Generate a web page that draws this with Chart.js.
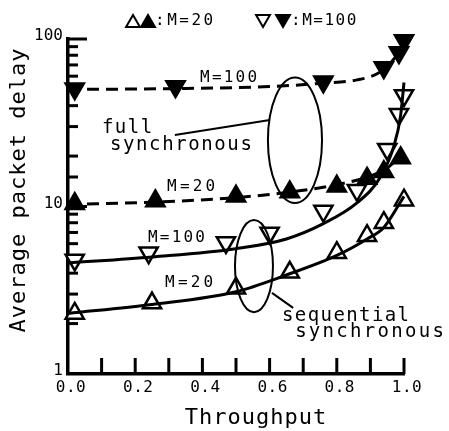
<!DOCTYPE html>
<html>
<head>
<meta charset="utf-8">
<script src="https://cdn.jsdelivr.net/npm/chart.js@4/dist/chart.umd.min.js"></script>
<style>
  html, body { margin: 0; padding: 0; background: #fff; }
</style>
</head>
<body>
<canvas id="chart" width="449" height="431"></canvas>
<script>
// ------------------------------------------------------------
// DATA
// ------------------------------------------------------------
// markers
const seqM20X  = [0.02, 0.25, 0.50, 0.66, 0.80, 0.89, 0.94, 1.00];
const seqM20Y  = [2.3, 2.65, 3.25, 4.05, 5.3, 6.7, 8.0, 10.9];
const seqM100X = [0.02, 0.24, 0.47, 0.60, 0.76, 0.86, 0.95, 0.985, 1.00];
const seqM100Y = [4.8, 5.3, 6.1, 6.95, 9.4, 12.5, 22, 35.5, 46];
const fullM20X = [0.02, 0.26, 0.50, 0.66, 0.80, 0.89, 0.94, 0.99];
const fullM20Y = [10.4, 10.8, 11.5, 12.2, 13.2, 14.7, 16.1, 19.5];
const fullM100X = [0.02, 0.32, 0.76, 0.94, 0.985, 1.00];
const fullM100Y = [50.5, 52, 55.5, 67.5, 83, 98];

// fitted curves
const seqM20CurveX  = [0, 0.25, 0.5, 0.65, 0.8, 0.89, 0.94, 1.0];
const seqM20CurveY  = [2.3, 2.6, 3.1, 3.9, 5.1, 6.4, 7.5, 11.5];
const seqM100CurveX = [0, 0.25, 0.5, 0.65, 0.76, 0.86, 0.93, 0.97, 0.99, 1.0];
const seqM100CurveY = [4.6, 5.0, 5.6, 6.4, 7.9, 10.5, 15, 23, 35, 55];
const fullM20CurveX = [0, 0.25, 0.5, 0.66, 0.8, 0.9, 0.95, 1.0];
const fullM20CurveY = [10.3, 10.6, 11.3, 12.2, 13.5, 15.2, 17, 21];
const fullM100CurveX = [0, 0.3, 0.6, 0.76, 0.86, 0.92, 0.96, 0.99, 1.0];
const fullM100CurveY = [50, 50.5, 52, 54.5, 57, 62, 72, 88, 100];

// axis tick labels
const xTickLabels = ["0.0", "0.2", "0.4", "0.6", "0.8", "1.0"];
const yTickLabels = ["1", "10", "100"];

const pts = (xs, ys) => xs.map((x, i) => ({ x, y: ys[i] }));

const MONO = '"DejaVu Sans Mono", monospace';

function curve(xs, ys, dashed) {
  return {
    data: pts(xs, ys),
    borderColor: "#000",
    borderWidth: 3,
    borderDash: dashed ? [12, 7] : [],
    pointRadius: 0,
    tension: 0.4,
    cubicInterpolationMode: "monotone",
    fill: false,
    clip: false
  };
}

function markers(xs, ys, filled, down) {
  return {
    data: pts(xs, ys),
    showLine: false,
    pointStyle: "triangle",
    rotation: down ? 180 : 0,
    pointRadius: 10.5,
    pointBackgroundColor: filled ? "#000" : "#fff",
    pointBorderColor: "#000",
    pointBorderWidth: 2.5,
    clip: false
  };
}

// ------------------------------------------------------------
// DECORATION PLUGIN (ticks, labels, ellipses, legend)
// ------------------------------------------------------------
function text(ctx, s, x, y, size, align, spacing) {
  ctx.font = `${size}px ${MONO}`;
  ctx.letterSpacing = spacing + "px";
  ctx.textAlign = align;
  ctx.textBaseline = "middle";
  ctx.fillText(s, x, y);
}

const decor = {
  id: "decor",
  beforeDatasetsDraw(chart) {
    const { ctx, chartArea: a, scales: { x, y } } = chart;
    ctx.save();
    ctx.strokeStyle = "#000";
    ctx.lineWidth = 3;
    // x ticks pointing up
    for (let i = 1; i <= 10; i++) {
      const px = x.getPixelForValue(i / 10);
      ctx.beginPath();
      ctx.moveTo(px, a.bottom);
      ctx.lineTo(px, a.bottom - 16);
      ctx.stroke();
    }
    // y ticks pointing right
    y.ticks.forEach(t => {
      const v = t.value;
      if (v <= 1) return;
      const major = Math.abs(Math.log10(v) - Math.round(Math.log10(v))) < 1e-6;
      const py = y.getPixelForValue(v);
      ctx.beginPath();
      ctx.moveTo(a.left, py);
      ctx.lineTo(a.left + (major ? 19 : 10), py);
      ctx.stroke();
    });
    ctx.restore();
  },
  afterDatasetsDraw(chart) {
    const { ctx, chartArea: a, scales: { x, y } } = chart;
    const X = v => x.getPixelForValue(v);
    const Y = v => y.getPixelForValue(v);
    ctx.save();
    ctx.fillStyle = "#000";
    ctx.strokeStyle = "#000";

    // tick labels
    xTickLabels.forEach(l => text(ctx, l, X(+l) + 3, 388, 16, "center", 0.5));
    yTickLabels.forEach(l => text(ctx, l, a.left - 5, Y(+l) - 3, 16, "right", 0));

    // axis titles
    text(ctx, "Throughput", 256, 418, 22, "center", 1);
    ctx.save();
    ctx.translate(19, 190);
    ctx.rotate(-Math.PI / 2);
    text(ctx, "Average packet delay", 0, 0, 22, "center", 1);
    ctx.restore();

    // ellipses
    ctx.lineWidth = 2;
    [[0.595, 0.756, 10.5, 59], [0.497, 0.610, 2.34, 8.3]].forEach(([x0, x1, y0, y1]) => {
      const cx = (X(x0) + X(x1)) / 2, cy = (Y(y0) + Y(y1)) / 2;
      ctx.beginPath();
      ctx.ellipse(cx, cy, Math.abs(X(x1) - X(x0)) / 2, Math.abs(Y(y0) - Y(y1)) / 2, 0, 0, Math.PI * 2);
      ctx.stroke();
    });

    // leader lines
    ctx.beginPath();
    ctx.moveTo(X(0.318), Y(26.7));
    ctx.lineTo(X(0.601), Y(32.8));
    ctx.moveTo(X(0.607), Y(3.05));
    ctx.lineTo(X(0.670), Y(2.48));
    ctx.stroke();

    // group labels
    text(ctx, "full", X(0.101), Y(29.4), 19, "left", 1.5);
    text(ctx, "synchronous", X(0.125), Y(23.3), 19, "left", 1.6);
    text(ctx, "sequential", X(0.637), Y(2.22), 19, "left", 1.4);
    text(ctx, "synchronous", X(0.676), Y(1.78), 19, "left", 2.3);

    // curve labels
    text(ctx, "M=100", X(0.393), Y(58.5), 16, "left", 2.2);
    text(ctx, "M=20", X(0.295), Y(13.1), 16, "left", 3.2);
    text(ctx, "M=100", X(0.238), Y(6.49), 16, "left", 2.2);
    text(ctx, "M=20", X(0.289), Y(3.49), 16, "left", 3.2);

    // legend
    const tri = (cx, cy, down, filled) => {
      const r = 8;
      ctx.fillStyle = filled ? "#000" : "#fff";
      ctx.lineWidth = 2;
      Chart.helpers.drawPoint(ctx, { pointStyle: "triangle", rotation: down ? 180 : 0, radius: r, borderWidth: 2 },
        cx, cy + (down ? -0.25 : 0.25) * r);
    };
    tri(133, 21, false, false);
    tri(148, 21, false, true);
    tri(263, 21, true, false);
    tri(283, 21, true, true);
    ctx.fillStyle = "#000";
    text(ctx, ":M=20", 155, 21, 16, "left", 2.5);
    text(ctx, ":M=100", 291, 21, 16, "left", 1.5);

    ctx.restore();
  }
};

// ------------------------------------------------------------
// CHART
// ------------------------------------------------------------
new Chart(document.getElementById("chart"), {
  type: "line",
  data: {
    datasets: [
      curve(fullM100CurveX, fullM100CurveY, true),
      curve(fullM20CurveX, fullM20CurveY, true),
      curve(seqM100CurveX, seqM100CurveY, false),
      curve(seqM20CurveX, seqM20CurveY, false),
      markers(fullM100X, fullM100Y, true, true),
      markers(fullM20X, fullM20Y, true, false),
      markers(seqM100X, seqM100Y, false, true),
      markers(seqM20X, seqM20Y, false, false)
    ]
  },
  options: {
    responsive: false,
    animation: false,
    devicePixelRatio: 1,
    layout: { padding: { left: 68, right: 45, top: 39, bottom: 57 } },
    plugins: { legend: { display: false }, tooltip: { enabled: false } },
    scales: {
      x: {
        type: "linear",
        min: 0,
        max: 1,
        ticks: { display: false },
        grid: { display: false },
        border: { display: true, width: 3.5, color: "#000" },
        afterFit: s => { s.height = 0; }
      },
      y: {
        type: "logarithmic",
        min: 1,
        max: 100,
        ticks: { display: false },
        grid: { display: false },
        border: { display: true, width: 3.5, color: "#000" },
        afterFit: s => { s.width = 0; }
      }
    }
  },
  plugins: [decor]
});
</script>
</body>
</html>
